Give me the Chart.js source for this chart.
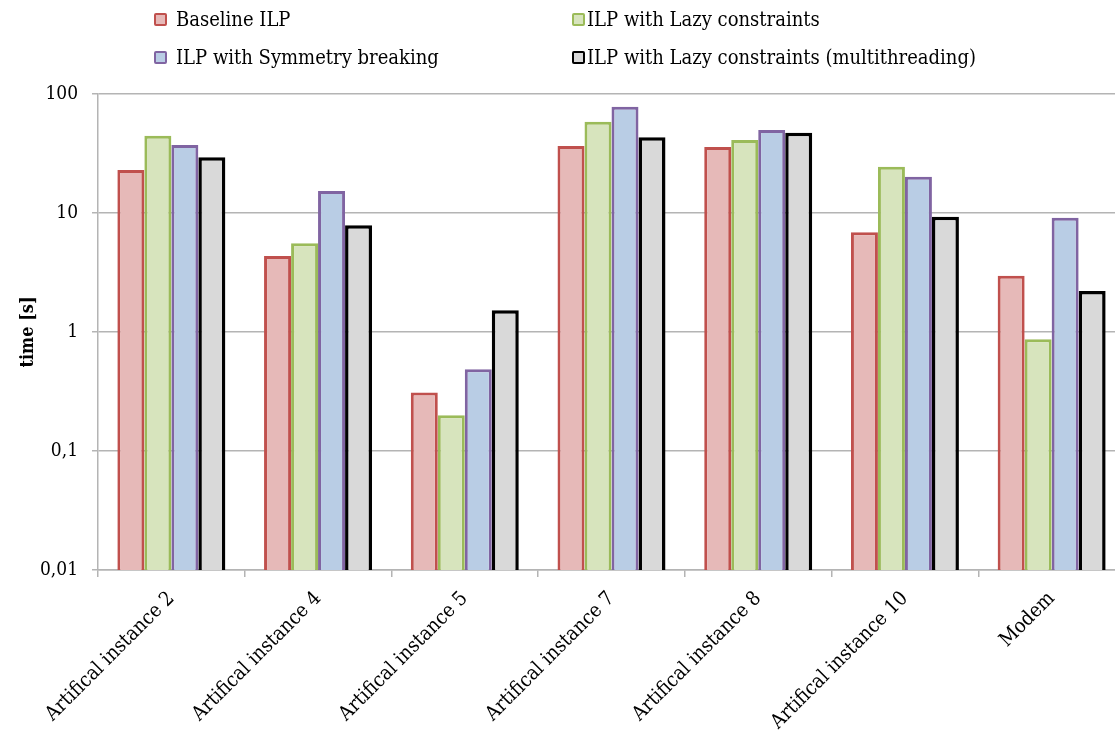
<!DOCTYPE html>
<html>
<head>
<meta charset="utf-8">
<script src="https://cdn.jsdelivr.net/npm/chart.js@4"></script>
<style>
    html, body { margin: 0; padding: 0; background: #fff; overflow: hidden; }
    #wrap { position: relative; width: 1125px; height: 731px; }
    #legend { position: absolute; left: 0; top: 0; width: 1115px; height: 80px; font-family: "DejaVu Serif Condensed", "DejaVu Serif", serif; font-size: 20px; color: #000; }
    .item { position: absolute; display: flex; align-items: center; height: 22px; }
    .box { width: 9px; height: 9px; border-width: 2.5px; border-style: solid; border-radius: 2px; }
</style>
</head>
<body>
<div id="wrap">
    <canvas id="myChart" width="1125" height="731"></canvas>
    <div id="legend"></div>
</div>
<script>
const categories = ['Artifical instance 2', 'Artifical instance 4', 'Artifical instance 5', 'Artifical instance 7', 'Artifical instance 8', 'Artifical instance 10', 'Modem'];
const seriesNames = ['Baseline ILP', 'ILP with Lazy constraints', 'ILP with Symmetry breaking', 'ILP with Lazy constraints (multithreading)'];
const baselineIlp = [23.0, 4.35, 0.31, 36.6, 35.9, 6.9, 2.97];
const lazyIlp = [44.6, 5.56, 0.2, 58.5, 41.1, 24.5, 0.87];
const symmetryIlp = [37.3, 15.3, 0.486, 78.2, 49.8, 20.2, 9.14];
const lazyMultiIlp = [29.4, 7.88, 1.52, 43.3, 47.3, 9.31, 2.21];
const yTicks = [0.01, 0.1, 1, 10, 100];

const fills = ['#e6b9b8', '#d7e4bd', '#b9cde5', '#d9d9d9'];
const borders = ['#c0504d', '#9bbb59', '#8064a2', '#000000'];
const widths = [3, 3, 3, 3.5];
const fontName = '"DejaVu Serif Condensed", "DejaVu Serif", serif';
const gridColor = '#b4b4b4';

const series = [baselineIlp, lazyIlp, symmetryIlp, lazyMultiIlp];

const datasets = series.map(function (values, i) {
    return {
        label: seriesNames[i],
        data: values,
        backgroundColor: fills[i],
        borderColor: borders[i],
        borderWidth: widths[i],
        borderSkipped: 'bottom'
    };
});

// legend laid out as a 2x2 grid above the plot: [left, top, gap after box]
const legendPos = [[154, 8, 9], [572, 8, 2], [154, 46, 9], [572, 46, 2]];
const legend = document.getElementById('legend');
seriesNames.forEach(function (name, i) {
    const item = document.createElement('div');
    item.className = 'item';
    item.style.left = legendPos[i][0] + 'px';
    item.style.top = legendPos[i][1] + 'px';
    const box = document.createElement('span');
    box.className = 'box';
    box.style.background = fills[i];
    box.style.borderColor = borders[i];
    box.style.marginRight = legendPos[i][2] + 'px';
    item.appendChild(box);
    item.appendChild(document.createTextNode(name));
    legend.appendChild(item);
});

const ctx = document.getElementById('myChart');
const myChart = new Chart(ctx, {
    type: 'bar',
    data: {
        labels: categories,
        datasets: datasets
    },
    options: {
        responsive: false,
        animation: false,
        layout: { padding: { top: 94, right: 0, left: 0, bottom: 0 } },
        datasets: {
            bar: { categoryPercentage: 0.736, barPercentage: 1 }
        },
        plugins: {
            legend: { display: false },
            tooltip: { enabled: false }
        },
        scales: {
            x: {
                grid: { drawOnChartArea: false, color: gridColor, lineWidth: 1.5, tickLength: 7 },
                border: { color: gridColor, width: 1.5 },
                ticks: {
                    color: '#000',
                    font: { family: fontName, size: 20 },
                    minRotation: 45,
                    maxRotation: 45,
                    padding: 10
                },
                afterFit: function (scale) { scale.height = 161; }
            },
            y: {
                type: 'logarithmic',
                min: 0.01,
                max: 100,
                afterBuildTicks: function (scale) {
                    scale.ticks = yTicks.map(function (v) { return { value: v }; });
                },
                afterFit: function (scale) { scale.width = 98; },
                grid: { color: gridColor, lineWidth: 1.5, tickLength: 6 },
                border: { color: gridColor, width: 1.5 },
                ticks: {
                    color: '#000',
                    font: { family: fontName, size: 19 },
                    padding: 14,
                    callback: function (value) {
                        return String(value).replace('.', ',');
                    }
                },
                title: {
                    display: true,
                    text: 'time [s]',
                    color: '#000',
                    font: { family: fontName, size: 18, weight: 'bold' },
                    padding: { top: 18, bottom: 0 }
                }
            }
        }
    }
});
</script>
</body>
</html>
